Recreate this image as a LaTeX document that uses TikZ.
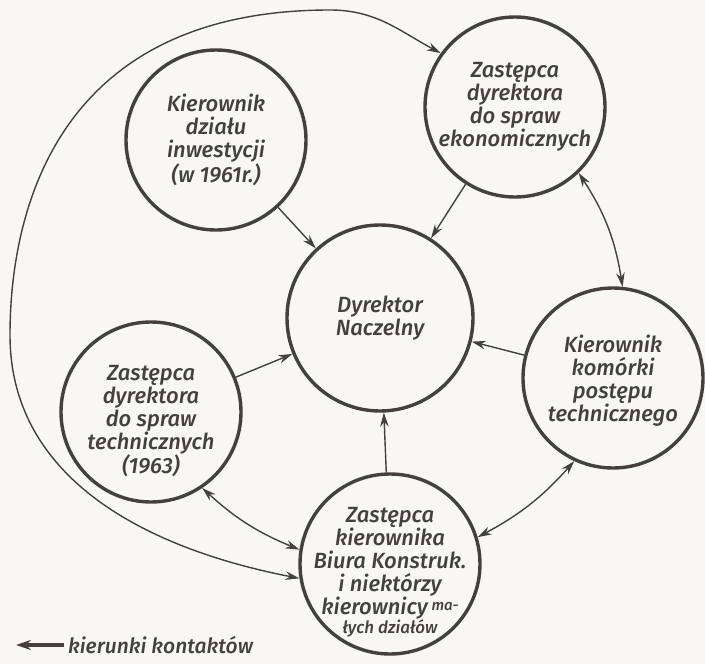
\documentclass[tikz,border=0pt]{standalone}
\usepackage{fontspec}
\setmainfont{Fira Sans}
\newfontfamily\hand{Fira Sans Medium}
\usetikzlibrary{arrows.meta,positioning,calc}
\usepackage{xcolor}
\definecolor{ink}{HTML}{45403C}
\definecolor{paper}{HTML}{F8F7F1}

\begin{document}
\begin{tikzpicture}[x=1pt,y=-1pt,
  >={Stealth[length=14pt,width=8.5pt]},%
  every node/.style={align=center,text=ink,},%
  k/.style={circle,draw=ink,line width=3.4pt,minimum size=180pt,inner sep=0pt,},%
  t/.style={font=\hand\itshape\fontsize{22}{23}\selectfont,inner sep=0pt,},%
  e/.style={->,line width=1.4pt,draw=ink,},%
  ee/.style={<->,line width=1.4pt,draw=ink,},%
  lg/.style={->,line width=3.2pt,draw=ink,>={Stealth[length=15pt,width=10pt]},},%
  ]
  \useasboundingbox[fill=paper] (0,0) rectangle (705,664);

  \node (inw) [k] at (216,140) {};
  \node (inwt) [t] at (inw) {Kierownik\\działu\\inwestycji\\(w 1961r.)};

  \node (eko) [k] at (515,107) {};
  \node (ekot) [t] at (eko) {Zastępca\\dyrektora\\do spraw\\ekonomicznych};

  \node (dyr) [k,minimum size=186pt] at (380,318) {};
  \node (dyrt) [t] at (dyr) {Dyrektor\\Naczelny};

  \node (post) [k] at (613,378) {};
  \node (postt) [t,yshift=-3pt] at (post) {Kierownik\\komórki\\postępu\\technicznego};

  \node (tech) [k] at (151,412) {};
  \node (techt) [t,yshift=-9pt] at (tech) {Zastępca\\dyrektora\\do spraw\\technicznych\\(1963)};

  \node (kon) [k] at (390,564) {};
  \node (kont) [t,yshift=-8pt] at (kon) {Zastępca\\kierownika\\Biura Konstruk.\\i niektórzy\\kierownicy\,\raisebox{4pt}{\fontsize{15}{15}\selectfont ma-}\\[-4pt]%
    {\fontsize{17}{17}\selectfont łych działów}};

  \draw [e] (inw) -- (dyr);
  \draw [e] (eko) -- (dyr);
  \draw [e] (post) -- (dyr);
  \draw [e] (tech) -- (dyr);
  \draw [e] (kon) -- (dyr);
  \draw [ee] (eko.-46) to[bend left=12] (post.84);
  \draw [ee] (tech.-56) to[bend right=10] (kon.171);
  \draw [ee] (post.-115) to[bend left=10] (kon.17);

  \coordinate (w) at (10,335);
  \coordinate (n) at (330,10);
  \draw [ee] (kon.189) to[out=169,in=-90] (w)
    to[out=90,in=180,out looseness=0.6,in looseness=1.6] (n)
    to[out=0,in=152] (eko.144);

  \node (leg) [t,anchor=west,font=\hand\itshape\fontsize{21}{22}\selectfont] at (68,645) {kierunki kontaktów};
  \coordinate (legp) at (16,645);
  \draw [lg] ([xshift=-4pt]leg.west) -- (legp);
\end{tikzpicture}
\end{document}
